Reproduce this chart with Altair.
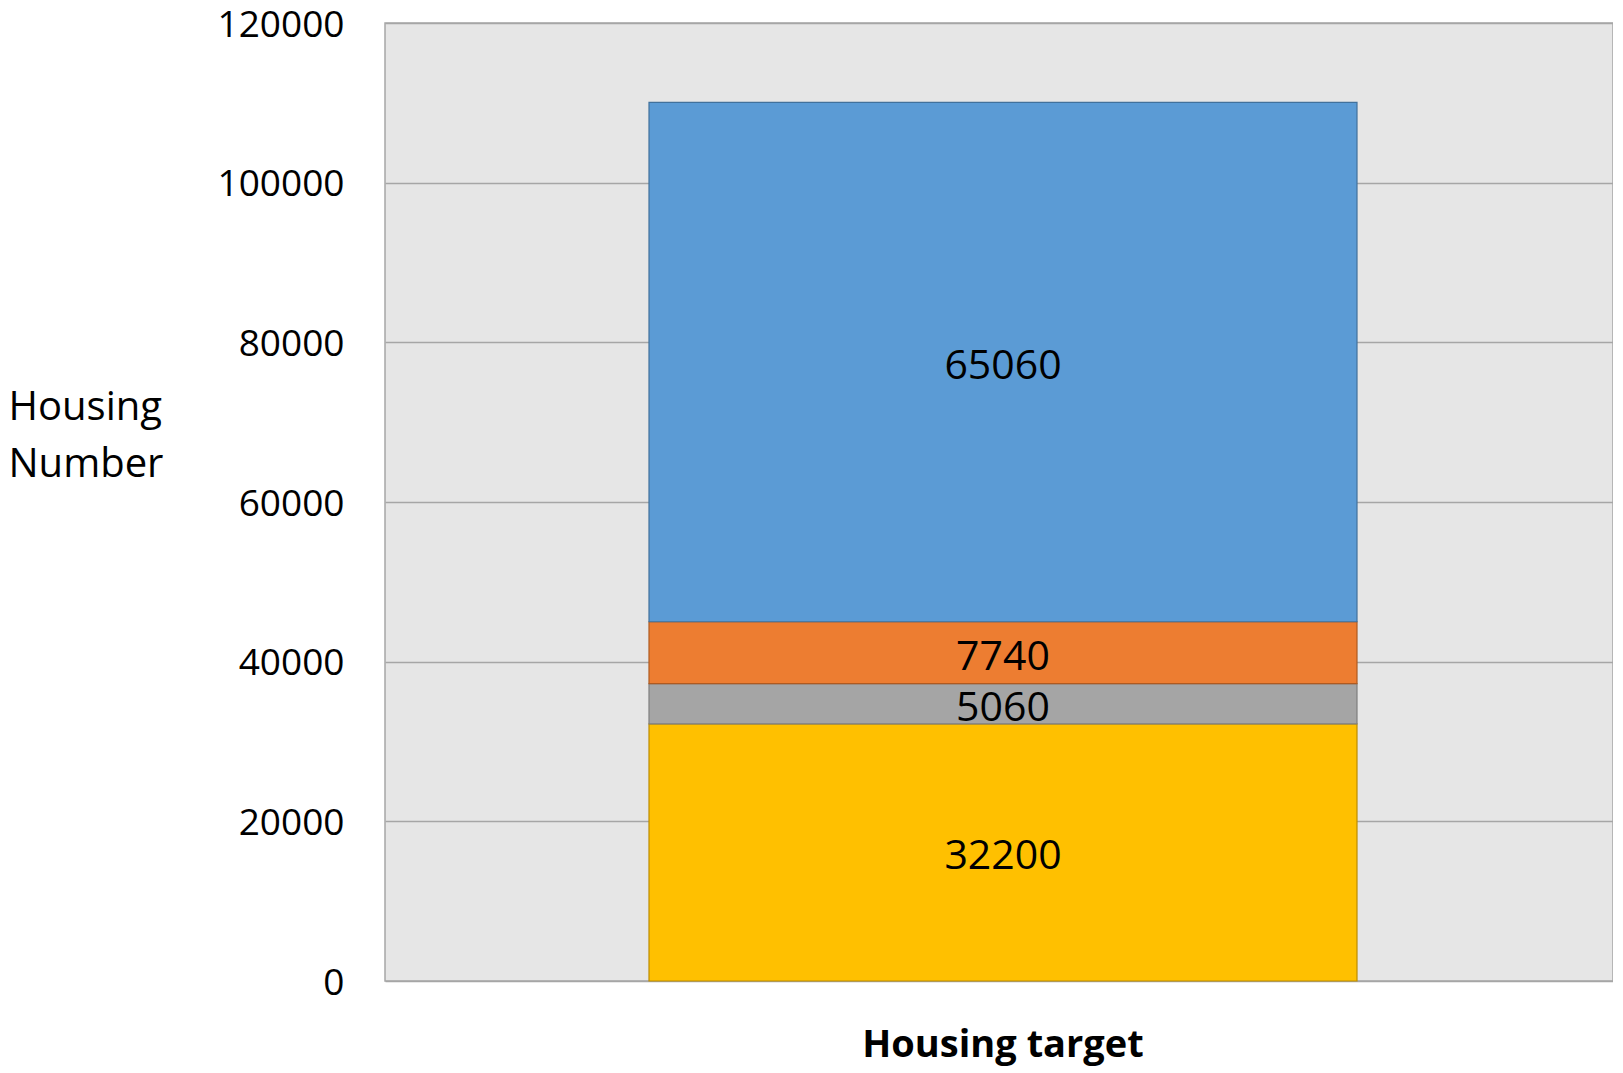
import altair as alt
import pandas as pd

category = "Housing target"
segments = ["Segment 1", "Segment 2", "Segment 3", "Segment 4"]
values = [32200, 5060, 7740, 65060]
colors = ["#ffc000", "#a5a5a5", "#ed7d31", "#5b9bd5"]
strokes = ["#bc8c00", "#7f7f7f", "#ae5a21", "#41719c"]
y_ticks = [0, 20000, 40000, 60000, 80000, 100000, 120000]

df = pd.DataFrame({
    "category": [category] * len(values),
    "segment": segments,
    "value": values,
    "order": list(range(len(values))),
})

FONT = "Open Sans"

y_axis = alt.Axis(
    values=y_ticks, format="d", ticks=False, domain=False,
    labelPadding=41, labelFontSize=37, labelFont=FONT, labelColor="black",
    labelOffset=2,
    grid=True, gridColor="#a6a6a6", gridWidth=1.5,
    title=["Housing", "Number"], titleAngle=0, titleAlign="left",
    titleX=-377, titleY=396, titleBaseline="alphabetic",
    titleFontSize=40, titleFontWeight="normal", titleFont=FONT,
    titleLineHeight=57, titleColor="black",
)
x_axis = alt.Axis(
    title=None, ticks=False, domain=False, labelAngle=0,
    labelFontSize=38, labelFontWeight="bold", labelFont=FONT,
    labelColor="black", labelPadding=45, labelLimit=0, labelOffset=4,
)

base = alt.Chart(df).transform_stack(
    stack="value", as_=["y0", "y1"], groupby=["category"],
    sort=[alt.SortField("order", order="ascending")],
).transform_calculate(mid="(datum.y0 + datum.y1) / 2")

ysc = alt.Scale(domain=[0, 120000], nice=False)

bars = base.mark_bar(size=708, strokeWidth=1.2, xOffset=4).encode(
    x=alt.X("category:N", axis=x_axis),
    y=alt.Y("y0:Q", scale=ysc, axis=y_axis),
    y2="y1:Q",
    color=alt.Color("segment:N", scale=alt.Scale(domain=segments, range=colors), legend=None),
    stroke=alt.Stroke("segment:N", scale=alt.Scale(domain=segments, range=strokes), legend=None),
)

labels = base.mark_text(fontSize=41, font=FONT, color="black", baseline="middle",
                        dx=4, dy=5).encode(
    x=alt.X("category:N", axis=x_axis),
    y=alt.Y("mid:Q", scale=ysc, axis=y_axis),
    text=alt.Text("value:Q", format="d"),
)

chart = alt.layer(bars, labels).properties(
    width=1228, height=958,
    autosize=alt.AutoSizeParams(type="none"),
    padding={"left": 377, "top": 15, "right": 0, "bottom": 92},
    view=alt.ViewBackground(fill="#e6e6e6", stroke="#a6a6a6", strokeWidth=1.5),
).configure(background="white")

chart.save("out.html", embed_options={"renderer": "svg", "actions": False})
